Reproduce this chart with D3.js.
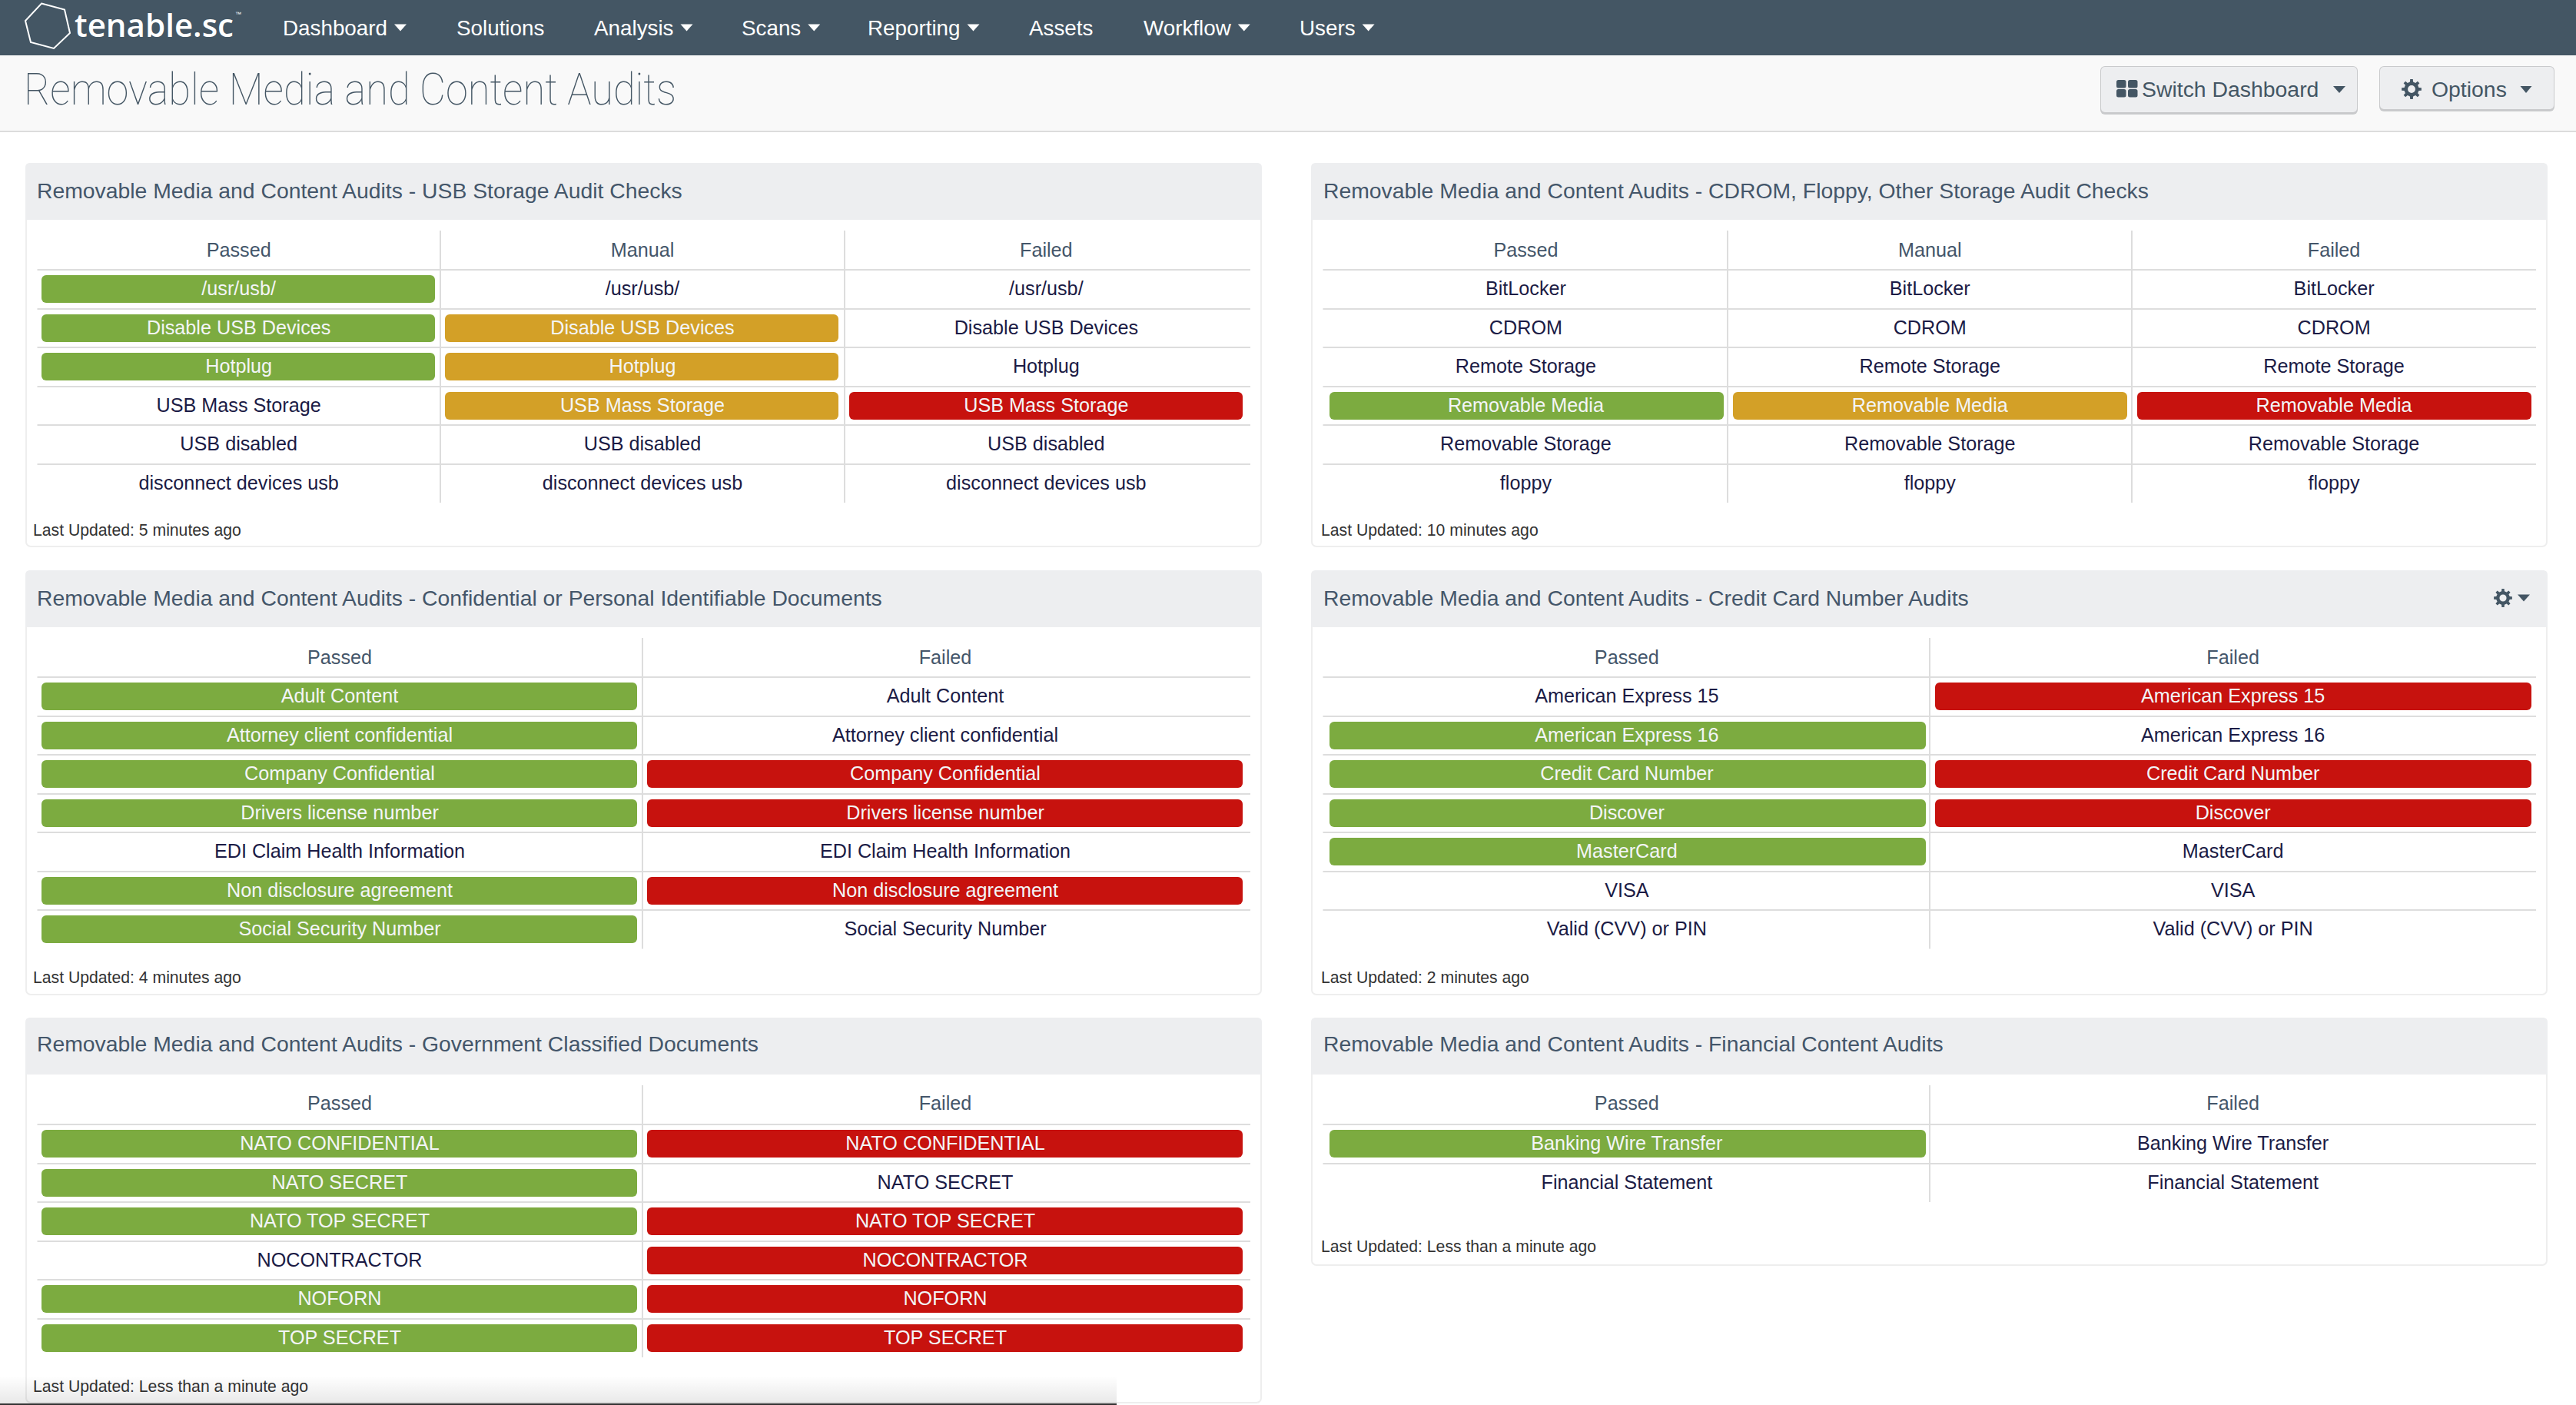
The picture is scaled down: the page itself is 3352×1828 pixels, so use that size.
<!DOCTYPE html>
<html><head><meta charset="utf-8">
<script src="https://cdnjs.cloudflare.com/ajax/libs/d3/7.8.5/d3.min.js"></script>
<style>html,body{margin:0;padding:0;background:#fff;overflow:hidden}svg{display:block}text{font-family:"Liberation Sans",Arial,sans-serif}</style>
</head><body>
<svg id="c" width="3352" height="1828" viewBox="0 0 3352 1828"></svg>
<script>
// ---------- data ----------
const navItems = ["Dashboard","Solutions","Analysis","Scans","Reporting","Assets","Workflow","Users"];
const navHasMenu = [1,0,1,1,1,0,1,1];
const pageTitle = "Removable Media and Content Audits";
const prefix = "Removable Media and Content Audits - ";

const usbRows = ["/usr/usb/","Disable USB Devices","Hotplug","USB Mass Storage","USB disabled","disconnect devices usb"];
const usbPassed = [1,1,1,0,0,0];
const usbManual = [0,1,1,1,0,0];
const usbFailed = [0,0,0,1,0,0];

const otherRows = ["BitLocker","CDROM","Remote Storage","Removable Media","Removable Storage","floppy"];
const otherPassed = [0,0,0,1,0,0];
const otherManual = [0,0,0,1,0,0];
const otherFailed = [0,0,0,1,0,0];

const piiRows = ["Adult Content","Attorney client confidential","Company Confidential","Drivers license number","EDI Claim Health Information","Non disclosure agreement","Social Security Number"];
const piiPassed = [1,1,1,1,0,1,1];
const piiFailed = [0,0,1,1,0,1,0];

const cardRows = ["American Express 15","American Express 16","Credit Card Number","Discover","MasterCard","VISA","Valid (CVV) or PIN"];
const cardPassed = [0,1,1,1,1,0,0];
const cardFailed = [1,0,1,1,0,0,0];

const govRows = ["NATO CONFIDENTIAL","NATO SECRET","NATO TOP SECRET","NOCONTRACTOR","NOFORN","TOP SECRET"];
const govPassed = [1,1,1,0,1,1];
const govFailed = [1,0,1,1,1,1];

const finRows = ["Banking Wire Transfer","Financial Statement"];
const finPassed = [1,0];
const finFailed = [0,0];

const panels = [
 {title:"USB Storage Audit Checks", rows:usbRows, cols:{Passed:usbPassed,Manual:usbManual,Failed:usbFailed}, updated:"5 minutes ago"},
 {title:"CDROM, Floppy, Other Storage Audit Checks", rows:otherRows, cols:{Passed:otherPassed,Manual:otherManual,Failed:otherFailed}, updated:"10 minutes ago"},
 {title:"Confidential or Personal Identifiable Documents", rows:piiRows, cols:{Passed:piiPassed,Failed:piiFailed}, updated:"4 minutes ago"},
 {title:"Credit Card Number Audits", rows:cardRows, cols:{Passed:cardPassed,Failed:cardFailed}, updated:"2 minutes ago", gear:true},
 {title:"Government Classified Documents", rows:govRows, cols:{Passed:govPassed,Failed:govFailed}, updated:"Less than a minute ago"},
 {title:"Financial Content Audits", rows:finRows, cols:{Passed:finPassed,Failed:finFailed}, updated:"Less than a minute ago"}
];

// ---------- layout & style ----------
const NAV="#445664", INK="#44566a", CELL="#1b1b45", RULE="#dddddd", HEAD="#edeef0";
const statusFill = d3.scaleOrdinal(["Passed","Manual","Failed"],["#7cab40","#d3a027","#c7120e"]);
const navX = [368,594,773,965,1129,1339,1488,1691];
const LEFT={x:33,c0:48,c1:1624,inset:6,tx:15,ux:10}, RIGHT={x:1706,c0:1722.5,c1:3300,inset:7,tx:16,ux:13};
const slots = [
 {...LEFT,top:212,bottom:712,foot:15.5,dy:0},{...RIGHT,top:212,bottom:712,foot:15.5,dy:0},
 {...LEFT,top:742,bottom:1295,foot:16,dy:0},{...RIGHT,top:742,bottom:1295,foot:16,dy:0},
 {...LEFT,top:1324,bottom:1826,foot:15.5,dy:-2},{...RIGHT,top:1324,bottom:1647,foot:18.5,dy:-2}
];
const PW=1609, STEP=50.5, BAR=36;
const svg = d3.select("#c");

function caret(g,cx,cy,w,h,fill){
  g.append("path").attr("d",d3.line()([[cx-w/2,cy-h/2],[cx+w/2,cy-h/2],[cx,cy+h/2]])+"Z").attr("fill",fill);
}
function gear(g,cx,cy,r,fill){
  const pts=[]; const n=8;
  for(let i=0;i<n;i++){
    const a=i/n*2*Math.PI, t=Math.PI/n;
    pts.push([a-t*.55,r*.74],[a-t*.35,r],[a+t*.35,r],[a+t*.55,r*.74]);
  }
  const d=d3.lineRadial().curve(d3.curveLinearClosed)(pts);
  const hole=d3.arc()({innerRadius:0,outerRadius:r*.38,startAngle:0,endAngle:2*Math.PI});
  g.append("path").attr("transform",`translate(${cx},${cy})`).attr("d",d+hole).attr("fill",fill).attr("fill-rule","evenodd");
}

// top bar
svg.append("rect").attr("width",3352).attr("height",72).attr("fill",NAV);
svg.append("path").attr("d",d3.line().curve(d3.curveLinearClosed)([[54,4.5],[84,12.5],[91,43],[70,63],[40,55],[33,27]]))
   .attr("fill","none").attr("stroke","#fff").attr("stroke-width",2);
svg.append("text").attr("x",97).attr("y",48).text("tenable.sc")
   .attr("fill","#fff").style("font-family","'Open Sans'").style("font-weight",600).style("font-size","41px")
   .attr("textLength",207).attr("lengthAdjust","spacingAndGlyphs");
svg.append("text").attr("x",306).attr("y",21).text("™").attr("fill","#fff").style("font-size","8px");
const nav = svg.append("g");
navItems.forEach((t,i)=>{
  const el=nav.append("text").attr("x",navX[i]).attr("y",46).text(t).attr("fill","#fff").style("font-size","27.8px");
  if(navHasMenu[i]) caret(nav,navX[i]+el.node().getComputedTextLength()+17,36,16,9,"#fff");
});

// page header
svg.append("rect").attr("y",72).attr("width",3352).attr("height",98).attr("fill","#f9f9f9");
svg.append("rect").attr("y",170).attr("width",3352).attr("height",2).attr("fill","#dcdcdc");
svg.append("text").attr("x",31).attr("y",136).text(pageTitle).attr("fill",NAV)
   .style("font-family","Roboto").style("font-weight",100).style("font-size","57px")
   .attr("textLength",849).attr("lengthAdjust","spacingAndGlyphs");

function button(x0,x1,y0,y1){
  svg.append("rect").attr("x",x0).attr("y",y0).attr("width",x1-x0).attr("height",y1-y0).attr("rx",6).attr("fill","#c9cacc");
  svg.append("rect").attr("x",x0+1).attr("y",y0+1).attr("width",x1-x0-2).attr("height",y1-y0-4).attr("rx",5).attr("fill",HEAD);
}
button(2733,3068,86,149);
button(3096,3324,86,145);
const tools=svg.append("g");
[[2754,104],[2769,104],[2754,116],[2769,116]].forEach(p=>tools.append("rect").attr("x",p[0]).attr("y",p[1]).attr("width",12.5).attr("height",10.5).attr("rx",2.5).attr("fill",NAV));
tools.append("text").attr("x",2787).attr("y",126).text("Switch Dashboard").attr("fill",NAV).style("font-size","28.4px");
caret(tools,3044,116.5,16,9,NAV);
gear(tools,3138,116,13,NAV);
tools.append("text").attr("x",3164).attr("y",126).text("Options").attr("fill",NAV).style("font-size","28.4px");
caret(tools,3287,116.5,15,9,NAV);

// panels
panels.forEach((p,i)=>{
  const s=slots[i], g=svg.append("g");
  const lineY=s.top+139, ruleX=s.x+15.5;
  const colNames=Object.keys(p.cols);
  const xs=d3.scaleBand().domain(colNames).range([s.c0,s.c1]);
  const ys=d3.scaleBand().domain(p.rows).range([lineY,lineY+p.rows.length*STEP]);
  // frame
  g.append("rect").attr("x",s.x+1).attr("y",s.top+1).attr("width",PW-2).attr("height",s.bottom-s.top-2)
    .attr("rx",6).attr("fill","#fff").attr("stroke","#eeeeee").attr("stroke-width",2);
  g.append("path").attr("fill",HEAD)
    .attr("d",`M${s.x},${s.top+74}V${s.top+6}Q${s.x},${s.top} ${s.x+6},${s.top}H${s.x+PW-6}Q${s.x+PW},${s.top} ${s.x+PW},${s.top+6}V${s.top+74}Z`);
  g.append("text").attr("x",s.x+s.tx).attr("y",s.top+46+s.dy).text(prefix+p.title).attr("fill",INK).style("font-size","28.35px");
  if(p.gear){ gear(g,3257,s.top+36,12,NAV); caret(g,3284,s.top+36,16,9,NAV); }
  // column headers + rules
  colNames.forEach((c,k)=>{
    g.append("text").attr("x",xs(c)+xs.bandwidth()/2).attr("y",s.top+122+s.dy).attr("text-anchor","middle")
      .text(c).attr("fill",INK).style("font-size","25.2px");
    if(k>0) g.append("rect").attr("x",Math.round(xs(c))-1).attr("y",s.top+88).attr("width",2)
      .attr("height",lineY+p.rows.length*STEP-s.top-88).attr("fill",RULE);
  });
  p.rows.forEach((r,j)=>{
    g.append("rect").attr("x",ruleX).attr("y",Math.round(ys(r))-1).attr("width",1578.5).attr("height",2).attr("fill",RULE);
    const cy=Math.round(ys(r)+ys.bandwidth()/2);
    colNames.forEach(c=>{
      const on=p.cols[c][j];
      if(on) g.append("rect").attr("x",Math.round(xs(c))+s.inset).attr("y",cy-BAR/2).attr("width",Math.round(xs.bandwidth())-13)
        .attr("height",BAR).attr("rx",6).attr("fill",statusFill(c));
      g.append("text").attr("x",xs(c)+xs.bandwidth()/2).attr("y",cy+8).attr("text-anchor","middle").text(r)
        .attr("fill",on?"#f3f5f7":CELL).style("font-size","25.2px");
    });
  });
  g.append("text").attr("x",s.x+s.ux).attr("y",s.bottom-s.foot).text("Last Updated: "+p.updated).attr("fill","#333").style("font-size","21.2px");
});

// bottom browser shadow
const defs=svg.append("defs");
const lg=defs.append("linearGradient").attr("id","fade").attr("x1",0).attr("x2",0).attr("y1",0).attr("y2",1);
lg.append("stop").attr("offset",0).attr("stop-color","#000").attr("stop-opacity",0);
lg.append("stop").attr("offset",1).attr("stop-color","#000").attr("stop-opacity",.09);
svg.append("rect").attr("x",0).attr("y",1790).attr("width",1453).attr("height",36).attr("fill","url(#fade)");
svg.append("rect").attr("x",0).attr("y",1826).attr("width",1453).attr("height",2).attr("fill","#333");
</script>
</body></html>
